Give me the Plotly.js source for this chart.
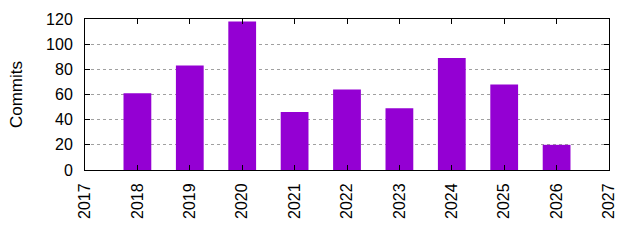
<!DOCTYPE html>
<html>
<head>
<meta charset="utf-8">
<script src="https://cdn.plot.ly/plotly-3.0.1.min.js"></script>
<style>html,body{margin:0;padding:0;background:#fff;}#chart{width:640px;height:240px;}</style>
</head>
<body>
<div id="chart"></div>
<script>
const years = [2018, 2019, 2020, 2021, 2022, 2023, 2024, 2025, 2026];
const commits = [61, 83, 118, 46, 64, 49, 89, 68, 20];
const xTickValues = [2017, 2018, 2019, 2020, 2021, 2022, 2023, 2024, 2025, 2026, 2027];
const xTickLabels = ["2017", "2018", "2019", "2020", "2021", "2022", "2023", "2024", "2025", "2026", "2027"];
const yTickValues = [0, 20, 40, 60, 80, 100, 120];

const font = {family: '"Liberation Sans", Arial, sans-serif', size: 16, color: '#000'};

Plotly.newPlot('chart', [{
  type: 'bar',
  x: years,
  y: commits,
  width: 0.53,
  marker: {color: '#9400D3', line: {width: 0}},
  hoverinfo: 'none'
}], {
  width: 640, height: 240,
  margin: {l: 84.5, r: 30.5, t: 19, b: 70, pad: 0},
  paper_bgcolor: '#fff', plot_bgcolor: '#fff',
  font: font,
  showlegend: false,
  xaxis: {
    range: [2017, 2027],
    tickmode: 'array', tickvals: xTickValues, ticktext: xTickLabels,
    tickangle: -90,
    ticks: 'inside', ticklen: 5, tickwidth: 1, tickcolor: '#000',
    showline: true, linecolor: '#000', linewidth: 1, mirror: 'allticks',
    showgrid: false, zeroline: false,
    ticklabelstandoff: 6,
    automargin: false,
    tickfont: font
  },
  yaxis: {
    range: [0, 120],
    tickmode: 'array', tickvals: yTickValues,
    ticks: 'inside', ticklen: 5, tickwidth: 1, tickcolor: '#000',
    showline: true, linecolor: '#000', linewidth: 1, mirror: 'allticks',
    showgrid: true, gridcolor: '#a0a0a0', gridwidth: 1, griddash: '3px,3px',
    zeroline: false,
    ticklabelstandoff: 8,
    automargin: false,
    tickfont: font,
    title: {text: 'Commits', font: {family: '"Liberation Sans", Arial, sans-serif', size: 17, color: '#000'}, standoff: 19}
  }
}, {staticPlot: true});
</script>
</body>
</html>
